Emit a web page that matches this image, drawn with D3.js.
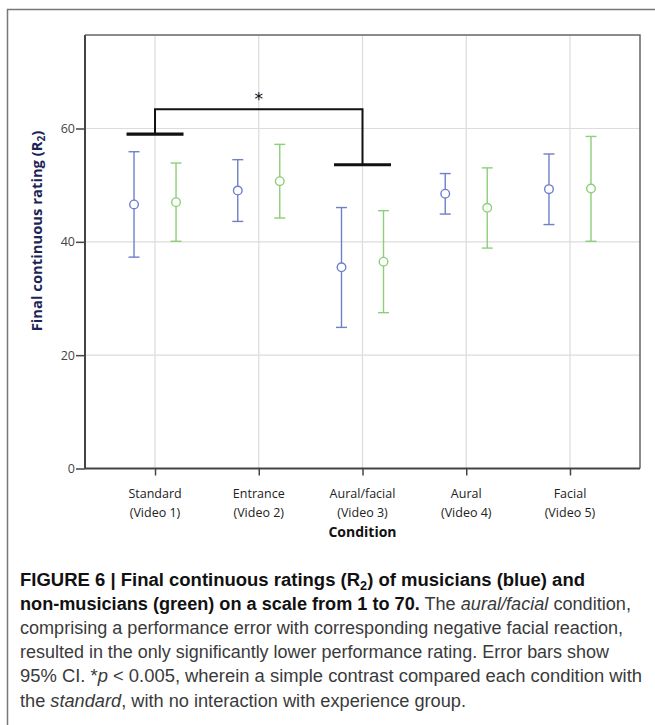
<!DOCTYPE html>
<html>
<head>
<meta charset="utf-8">
<script src="https://cdn.jsdelivr.net/npm/d3@7/dist/d3.min.js"></script>
<style>
  html, body { margin: 0; padding: 0; background: #fff; }
  svg { display: block; }
</style>
</head>
<body>
<svg id="chart" width="655" height="725"></svg>
<script>
// ---- data ----
const categories = ["Standard", "Entrance", "Aural/facial", "Aural", "Facial"];
const videoLabels = ["(Video 1)", "(Video 2)", "(Video 3)", "(Video 4)", "(Video 5)"];
const groups = ["musicians", "non-musicians"];
const musiciansMean = [46.6, 49.05, 35.5, 48.5, 49.3];
const musiciansLow  = [37.3, 43.6, 24.9, 44.9, 43.05];
const musiciansHigh = [55.9, 54.5, 46.05, 52.05, 55.5];
const nonMusiciansMean = [47.0, 50.7, 36.5, 46.0, 49.4];
const nonMusiciansLow  = [40.1, 44.2, 27.5, 38.9, 40.1];
const nonMusiciansHigh = [53.9, 57.2, 45.5, 53.05, 58.6];
const yTicks = [0, 20, 40, 60];
const yMax = 76.5;
const sigFrom = "Standard";
const sigTo = "Aural/facial";
const sigLevels = [59.0, 63.4, 53.6]; // left bar, bracket top, right bar
const sigLabel = "*";

// ---- layout ----
const svg = d3.select("#chart");
const plot = { left: 85, right: 640, top: 35, bottom: 468.5 };
const colors = { musicians: "#6f7fca", "non-musicians": "#8ccf78" };

const x = d3.scalePoint().domain(categories).range([plot.left, plot.right]).padding(0.675);
const xSub = d3.scalePoint().domain(groups).range([-21, 21]);
const y = d3.scaleLinear().domain([0, yMax]).range([plot.bottom, plot.top]);

// outer figure frame
svg.append("path")
  .attr("d", "M7.5,725 V9.5 H655")
  .attr("fill", "none").attr("stroke", "#777").attr("stroke-width", 1.5);

// grid
const grid = svg.append("g");
grid.selectAll("line.v").data(categories).join("line")
  .attr("x1", d => x(d)).attr("x2", d => x(d))
  .attr("y1", plot.top).attr("y2", plot.bottom)
  .attr("stroke", "#dcdcdc").attr("stroke-width", 1.2);
grid.selectAll("line.h").data(yTicks.filter(t => t > 0)).join("line")
  .attr("x1", plot.left).attr("x2", plot.right)
  .attr("y1", d => y(d)).attr("y2", d => y(d))
  .attr("stroke", "#dcdcdc").attr("stroke-width", 1.2);

// plot frame (top & right)
svg.append("path")
  .attr("d", `M${plot.left},${plot.top} H${plot.right} V${plot.bottom}`)
  .attr("fill", "none").attr("stroke", "#666").attr("stroke-width", 1.5);

// axes
const yAxis = svg.append("g").attr("transform", `translate(${plot.left},0)`)
  .call(d3.axisLeft(y).tickValues(yTicks).tickFormat(d3.format("d")).tickSize(9).tickPadding(1));
const xAxis = svg.append("g").attr("transform", `translate(0,${plot.bottom})`)
  .call(d3.axisBottom(x).tickSize(7).tickFormat(""));
[yAxis, xAxis].forEach(a => {
  a.select(".domain").attr("stroke", "#444").attr("stroke-width", 2);
  a.selectAll(".tick line").attr("stroke", "#444").attr("stroke-width", 1.5);
});
yAxis.select(".domain").attr("d", `M0,${plot.top}V${plot.bottom}`);
xAxis.select(".domain").attr("d", `M${plot.left},0H${plot.right}`);
yAxis.selectAll(".tick text")
  .attr("font-family", "'Open Sans', sans-serif").attr("font-size", 12.5).attr("fill", "#444");

// x tick labels (two lines)
const xl = svg.append("g").attr("font-family", "'Open Sans', sans-serif").attr("font-size", 12.5)
  .attr("fill", "#222").attr("text-anchor", "middle");
xl.selectAll("text.c").data(categories).join("text")
  .attr("x", d => x(d)).attr("y", 497.5).text(d => d);
xl.selectAll("text.v").data(categories).join("text")
  .attr("x", d => x(d)).attr("y", 516.5).text((d, i) => videoLabels[i]);

// axis titles
svg.append("text")
  .attr("x", (x(categories[0]) + x(categories[4])) / 2).attr("y", 536.5)
  .attr("text-anchor", "middle").attr("font-family", "'Open Sans', sans-serif")
  .attr("font-weight", "bold").attr("font-size", 14).attr("fill", "#111")
  .text("Condition");
const yt = svg.append("text")
  .attr("transform", "translate(42,231) rotate(-90)")
  .attr("text-anchor", "middle").attr("font-family", "'Open Sans', sans-serif")
  .attr("font-weight", "bold").attr("font-size", 14.8).attr("fill", "#1c2456");
yt.append("tspan").text("Final continuous rating (R");
yt.append("tspan").attr("font-size", 10).attr("dy", 3).text("2");
yt.append("tspan").attr("dy", -3).text(")");

// error bars
const series = [
  { g: "musicians", mean: musiciansMean, low: musiciansLow, high: musiciansHigh },
  { g: "non-musicians", mean: nonMusiciansMean, low: nonMusiciansLow, high: nonMusiciansHigh }
];
const capHalf = 5.5;
series.forEach(s => {
  const pts = categories.map((c, i) => ({ c, m: s.mean[i], lo: s.low[i], hi: s.high[i] }));
  const g = svg.append("g").attr("stroke", colors[s.g]).attr("stroke-width", 1.4).attr("fill", "none");
  const px = d => x(d.c) + xSub(s.g);
  g.selectAll("line.stem").data(pts).join("line")
    .attr("x1", px).attr("x2", px).attr("y1", d => y(d.lo)).attr("y2", d => y(d.hi));
  g.selectAll("line.top").data(pts).join("line")
    .attr("x1", d => px(d) - capHalf).attr("x2", d => px(d) + capHalf)
    .attr("y1", d => y(d.hi)).attr("y2", d => y(d.hi));
  g.selectAll("line.bot").data(pts).join("line")
    .attr("x1", d => px(d) - capHalf).attr("x2", d => px(d) + capHalf)
    .attr("y1", d => y(d.lo)).attr("y2", d => y(d.lo));
  g.selectAll("circle").data(pts).join("circle")
    .attr("cx", px).attr("cy", d => y(d.m)).attr("r", 4.3)
    .attr("fill", "#fff");
});

// significance bracket
const xa = x(sigFrom), xb = x(sigTo), half = 28.5;
const sig = svg.append("g").attr("stroke", "#111").attr("fill", "none");
sig.append("line").attr("x1", xa - half).attr("x2", xa + half)
  .attr("y1", y(sigLevels[0])).attr("y2", y(sigLevels[0])).attr("stroke-width", 3.2);
sig.append("line").attr("x1", xb - half).attr("x2", xb + half)
  .attr("y1", y(sigLevels[2])).attr("y2", y(sigLevels[2])).attr("stroke-width", 3.2);
sig.append("path")
  .attr("d", `M${xa},${y(sigLevels[0])} V${y(sigLevels[1])} H${xb} V${y(sigLevels[2])}`)
  .attr("stroke-width", 2);
svg.append("text").attr("x", (xa + xb) / 2).attr("y", y(sigLevels[1]) - 4)
  .attr("text-anchor", "middle").attr("font-family", "'DejaVu Sans', sans-serif")
  .attr("font-size", 17).attr("fill", "#111").text(sigLabel);

// caption
const captionLines = [
  [["b", "FIGURE 6 | Final continuous ratings (R"], ["bsub", "2"], ["b", ") of musicians (blue) and"]],
  [["b", "non-musicians (green) on a scale from 1 to 70."], ["n", " The "], ["i", "aural/facial"], ["n", " condition,"]],
  [["n", "comprising a performance error with corresponding negative facial reaction,"]],
  [["n", "resulted in the only significantly lower performance rating. Error bars show"]],
  [["n", "95% CI. *"], ["i", "p"], ["n", " < 0.005, wherein a simple contrast compared each condition with"]],
  [["n", "the "], ["i", "standard"], ["n", ", with no interaction with experience group."]]
];
const captionWidths = [565, 611, 603, 589, 622, 446];
const cap = svg.append("g").attr("font-family", "'Liberation Sans', Arial, sans-serif").attr("font-size", 17.5);
captionLines.forEach((line, li) => {
  const t = cap.append("text").attr("x", 20).attr("y", 586 + li * 24.1)
    .attr("textLength", captionWidths[li]).attr("lengthAdjust", "spacingAndGlyphs");
  let shifted = false;
  line.forEach(([k, s]) => {
    const sp = t.append("tspan").text(s);
    if (k === "b" || k === "bsub") sp.attr("font-weight", "bold").attr("fill", "#111");
    else sp.attr("fill", "#3a3a3a");
    if (k === "i") sp.attr("font-style", "italic");
    if (k === "bsub") { sp.attr("font-size", 12).attr("dy", 4); shifted = true; }
    else if (shifted) { sp.attr("dy", -4); shifted = false; }
  });
});
</script>
</body>
</html>
